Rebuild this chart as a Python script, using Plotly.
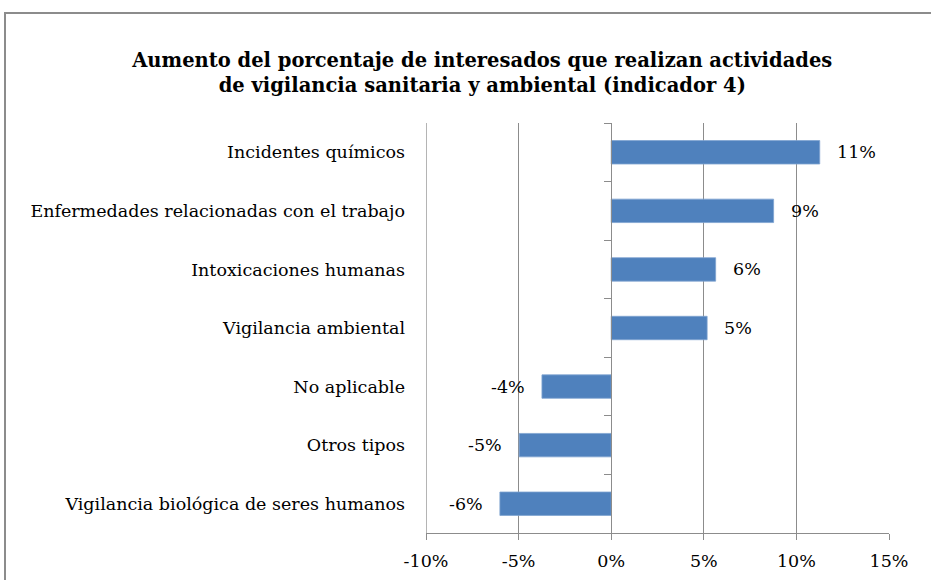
import plotly.graph_objects as go

categories = [
    "Incidentes químicos",
    "Enfermedades relacionadas con el trabajo",
    "Intoxicaciones humanas",
    "Vigilancia ambiental",
    "No aplicable",
    "Otros tipos",
    "Vigilancia biológica de seres humanos",
]
values = [0.1126, 0.0877, 0.0564, 0.0518, -0.0374, -0.0497, -0.0601]
x_tickvals = [-0.10, -0.05, 0.0, 0.05, 0.10, 0.15]
x_ticktext = ["-10%", "-5%", "0%", "5%", "10%", "15%"]
title_text = ("Aumento del porcentaje de interesados que realizan actividades<br>"
              "de vigilancia sanitaria y ambiental (indicador 4)")

FONT = "DejaVu Serif"
BAR = "#4F81BD"
GRID = "#8C8C8C"
FS = 17.5

W, H = 931, 580
ML, MR, MT, MB = 426, 42, 123, 47

fig = go.Figure()
fig.add_trace(go.Bar(
    x=values, y=categories, orientation="h",
    marker=dict(color=BAR, line=dict(color="#7FA3D0", width=0.8)),
    width=0.4, hoverinfo="skip", showlegend=False,
))

for c, v in zip(categories, values):
    fig.add_annotation(
        x=v, y=c, xref="x", yref="y",
        text=f"{round(v * 100):.0f}%",
        showarrow=False,
        xanchor="left" if v >= 0 else "right",
        xshift=15 if v >= 0 else -15,
        font=dict(family=FONT, size=FS, color="#000000"),
    )

fig.update_layout(
    template="none",
    width=W, height=H,
    margin=dict(l=ML, r=MR, t=MT, b=MB, pad=0, autoexpand=False),
    paper_bgcolor="white", plot_bgcolor="white",
    font=dict(family=FONT, size=FS, color="#000000"),
    title=dict(
        text=title_text, x=0.518, xanchor="center", y=1 - 67 / H, yanchor="middle",
        xref="container", yref="container",
        font=dict(family=FONT, size=19.5, color="#000000", weight="bold"),
    ),
    xaxis=dict(
        range=[x_tickvals[0], x_tickvals[-1]], tickvals=x_tickvals, ticktext=x_ticktext,
        showgrid=True, gridcolor=GRID, gridwidth=1.3,
        zeroline=False, automargin=False,
        showline=True, linecolor=GRID, linewidth=1.3,
        ticks="outside", ticklen=6, tickcolor=GRID, tickwidth=1.3,
        ticklabelstandoff=6,
        tickfont=dict(family=FONT, size=FS),
        fixedrange=True,
    ),
    yaxis=dict(
        type="category", categoryorder="array", categoryarray=categories,
        autorange="reversed", automargin=False,
        showgrid=False, zeroline=False, showline=False, ticks="",
        ticklabelstandoff=20,
        tickfont=dict(family=FONT, size=FS),
        fixedrange=True,
    ),
    yaxis2=dict(
        overlaying="y", anchor="free", automargin=False,
        position=(0.0 - x_tickvals[0]) / (x_tickvals[-1] - x_tickvals[0]),
        range=[-0.5, len(categories) - 0.5],
        tickvals=[i - 0.5 for i in range(len(categories) + 1)],
        showticklabels=False, showgrid=False, zeroline=False,
        showline=True, linecolor=GRID, linewidth=1.3,
        ticks="outside", ticklen=7, tickcolor=GRID, tickwidth=1.3,
        fixedrange=True,
    ),
    bargap=0.6,
)

# invisible trace to activate yaxis2
fig.add_trace(go.Scatter(x=[0], y=[0], yaxis="y2", mode="markers",
                         marker=dict(opacity=0), hoverinfo="skip", showlegend=False))

# left-edge gridline (-10%) that plotly omits at the range boundary
fig.add_shape(
    type="line", xref="x", yref="paper",
    x0=x_tickvals[0], x1=x_tickvals[0], y0=0, y1=1,
    line=dict(color=GRID, width=1.3), layer="below",
)

# outer chart border (cropped frame)
pw, ph = W - ML - MR, H - MT - MB
fig.add_shape(
    type="rect", xref="paper", yref="paper",
    x0=(5 - ML) / pw, x1=(W + 10 - ML) / pw,
    y0=-(H + 10 - (H - MB)) / ph, y1=((H - MB) - 13) / ph,
    line=dict(color="#8C8C8C", width=2), fillcolor="rgba(0,0,0,0)",
    layer="below",
)

fig.write_html(
    "out.html",
    config={"displayModeBar": False},
    post_script="document.body.style.margin='0px';document.body.style.overflow='hidden';",
)
